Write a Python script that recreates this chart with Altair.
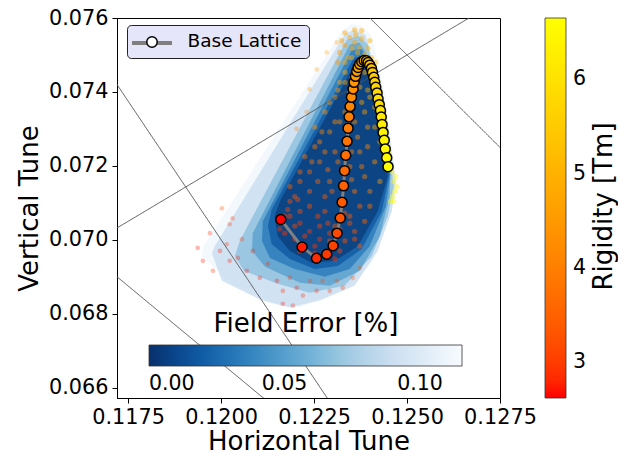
import altair as alt
import pandas as pd

FONT = "DejaVu Sans"

# ---------------- data ----------------
base_qx = [0.121605, 0.122177, 0.122565, 0.122841, 0.123011, 0.123118, 0.123204, 0.123253,
           0.123293, 0.123320, 0.123352, 0.123387, 0.123414, 0.123441, 0.123468, 0.123505,
           0.123548, 0.123575, 0.123613, 0.123648, 0.123683, 0.123728, 0.123782, 0.123844,
           0.123909, 0.123952, 0.123997, 0.124043, 0.124070, 0.124105, 0.124132, 0.124159,
           0.124194, 0.124220, 0.124253, 0.124285, 0.124306, 0.124328, 0.124355, 0.124387,
           0.124414, 0.124454, 0.124489]
base_qy = [0.070548, 0.069804, 0.069501, 0.069608, 0.069839, 0.070180, 0.070591, 0.071015,
           0.071460, 0.071871, 0.072287, 0.072663, 0.073017, 0.073326, 0.073603, 0.073858,
           0.074081, 0.074260, 0.074421, 0.074556, 0.074663, 0.074752, 0.074816, 0.074851,
           0.074843, 0.074797, 0.074725, 0.074636, 0.074529, 0.074395, 0.074260, 0.074126,
           0.073973, 0.073812, 0.073656, 0.073495, 0.073321, 0.073119, 0.072905, 0.072690,
           0.072454, 0.072220, 0.071979]
base_rig = [2.620, 2.732, 2.843, 2.954, 3.063, 3.172, 3.280, 3.388, 3.494, 3.600, 3.705,
            3.809, 3.913, 4.015, 4.117, 4.218, 4.319, 4.418, 4.517, 4.615, 4.712, 4.808,
            4.904, 4.999, 5.093, 5.186, 5.279, 5.370, 5.461, 5.551, 5.641, 5.729, 5.817,
            5.904, 5.990, 6.076, 6.160, 6.244, 6.327, 6.410, 6.491, 6.572, 6.652]

hull_err = [0.110, 0.085, 0.065, 0.048, 0.030, 0.015, 0.003]
hull_qx = [
    [0.12327, 0.12351, 0.12378, 0.12405, 0.12440, 0.12469, 0.12472, 0.12453, 0.12405, 0.12332, 0.12212, 0.12158, 0.12031, 0.11948, 0.11951],
    [0.12333, 0.12359, 0.12389, 0.12448, 0.12469, 0.12459, 0.12421, 0.12359, 0.12265, 0.12185, 0.12110, 0.12002, 0.11975, 0.11983],
    [0.12338, 0.12368, 0.12395, 0.12453, 0.12464, 0.12448, 0.12405, 0.12332, 0.12238, 0.12152, 0.12061, 0.12037, 0.12050],
    [0.12346, 0.12373, 0.12405, 0.12456, 0.12453, 0.12427, 0.12373, 0.12292, 0.12212, 0.12118, 0.12083, 0.12085],
    [0.12351, 0.12378, 0.12413, 0.12456, 0.12443, 0.12400, 0.12346, 0.12279, 0.12198, 0.12131, 0.12110, 0.12112],
    [0.12357, 0.12384, 0.12421, 0.12453, 0.12432, 0.12378, 0.12314, 0.12252, 0.12185, 0.12136, 0.12126, 0.12136],
    [0.12362, 0.12389, 0.12427, 0.12448, 0.12421, 0.12368, 0.12306, 0.12244, 0.12185, 0.12152, 0.12144, 0.12158],
]
hull_qy = [
    [0.07568, 0.07584, 0.07579, 0.07552, 0.07399, 0.07184, 0.07131, 0.07064, 0.06937, 0.06868, 0.06817, 0.06822, 0.06879, 0.06956, 0.06980],
    [0.07557, 0.07568, 0.07554, 0.07319, 0.07158, 0.07077, 0.06970, 0.06876, 0.06836, 0.06817, 0.06836, 0.06889, 0.06964, 0.06983],
    [0.07541, 0.07552, 0.07528, 0.07238, 0.07144, 0.07064, 0.06956, 0.06876, 0.06857, 0.06881, 0.06916, 0.06956, 0.06997],
    [0.07528, 0.07533, 0.07480, 0.07198, 0.07117, 0.07010, 0.06916, 0.06876, 0.06884, 0.06927, 0.06970, 0.07018],
    [0.07512, 0.07517, 0.07426, 0.07184, 0.07090, 0.06983, 0.06921, 0.06900, 0.06921, 0.06951, 0.06997, 0.07050],
    [0.07493, 0.07493, 0.07372, 0.07179, 0.07077, 0.06975, 0.06929, 0.06921, 0.06948, 0.06988, 0.07037, 0.07082],
    [0.07480, 0.07474, 0.07332, 0.07171, 0.07077, 0.06983, 0.06943, 0.06937, 0.06970, 0.07010, 0.07064, 0.07104],
]

# sparse outer samples (halo)
halo_qx = [0.11937, 0.11970, 0.11997, 0.12015, 0.12023, 0.12045, 0.12069, 0.12056, 0.12085, 0.12104,
           0.12126, 0.12150, 0.12166, 0.12185, 0.12203, 0.12220, 0.12239, 0.12257, 0.12273, 0.12292,
           0.12311, 0.12327, 0.12354, 0.12373, 0.12023, 0.12031, 0.12002, 0.11951, 0.11978, 0.12166,
           0.12193, 0.12257, 0.12238, 0.12284, 0.12311, 0.12230, 0.12203]
halo_qy = [0.06978, 0.07018, 0.06970, 0.06988, 0.06943, 0.06951, 0.06916, 0.07002, 0.06970, 0.06897,
           0.06935, 0.06889, 0.06862, 0.06897, 0.06870, 0.06849, 0.06889, 0.06862, 0.06889, 0.06862,
           0.06889, 0.06870, 0.06897, 0.06924, 0.07042, 0.07058, 0.07085, 0.06943, 0.06916, 0.06827,
           0.06822, 0.07461, 0.07407, 0.07507, 0.07534, 0.07346, 0.07300]
halo_rig = [2.7, 2.8, 2.7, 2.9, 2.7, 2.8, 2.7, 3.0, 2.8, 2.7,
            2.9, 2.7, 2.8, 2.9, 2.7, 2.8, 3.0, 2.8, 3.1, 2.9,
            3.2, 3.0, 3.3, 3.4, 3.0, 3.1, 3.2, 2.7, 2.8, 2.7,
            2.8, 4.5, 4.3, 4.6, 4.6, 4.2, 4.0]

# dense core samples
core_qx = [0.12333, 0.12359,
           0.12346, 0.12362, 0.12378, 0.12333, 0.12352, 0.12373, 0.12395, 0.12319, 0.12341, 0.12386,
           0.12405, 0.12367, 0.12359, 0.12324, 0.12378, 0.12400, 0.12416, 0.12314,
           0.12171, 0.12198, 0.12225, 0.12252, 0.12212, 0.12265, 0.12292, 0.12333, 0.12359, 0.12386,
           0.12238, 0.12185, 0.12346, 0.12279, 0.12319, 0.12212, 0.12158, 0.12373, 0.12400, 0.12306,
           0.12185, 0.12212, 0.12238, 0.12265, 0.12292, 0.12252, 0.12359, 0.12386, 0.12413, 0.12373,
           0.12346, 0.12225, 0.12279, 0.12400, 0.12427, 0.12198, 0.12306, 0.12333,
           0.12252, 0.12279, 0.12306, 0.12319, 0.12333, 0.12359, 0.12386, 0.12400, 0.12373, 0.12292,
           0.12265, 0.12413, 0.12427, 0.12346, 0.12319, 0.12386, 0.12405, 0.12440, 0.12352,
           0.12453, 0.12459, 0.12464, 0.12467, 0.12461, 0.12456, 0.12469, 0.12451, 0.12445, 0.12443,
           0.12440, 0.12437, 0.12432, 0.12427, 0.12472, 0.12464,
           0.12185, 0.12212, 0.12238, 0.12265, 0.12292, 0.12319, 0.12346, 0.12225, 0.12252, 0.12279,
           0.12306, 0.12198, 0.12171, 0.12152, 0.12179, 0.12206, 0.12260, 0.12287, 0.12333, 0.12373,
           0.12359,
           0.12212, 0.12238, 0.12260, 0.12287, 0.12314, 0.12298, 0.12351, 0.12378, 0.12367, 0.12394,
           0.12279, 0.12244, 0.12271, 0.12306, 0.12333, 0.12351, 0.12324, 0.12394,
           0.12292, 0.12314, 0.12333, 0.12346, 0.12362, 0.12378, 0.12394, 0.12413, 0.12333, 0.12351,
           0.12386]
core_qy = [0.07560, 0.07568,
           0.07547, 0.07555, 0.07544, 0.07526, 0.07518, 0.07520, 0.07518, 0.07507, 0.07493, 0.07501,
           0.07493, 0.07507, 0.07534, 0.07539, 0.07566, 0.07539, 0.07480, 0.07480,
           0.07064, 0.07037, 0.07010, 0.06983, 0.07077, 0.07037, 0.06997, 0.06997, 0.07023, 0.07050,
           0.07091, 0.07104, 0.07064, 0.07077, 0.06970, 0.06970, 0.07029, 0.06983, 0.07091, 0.07037,
           0.07144, 0.07184, 0.07131, 0.07211, 0.07158, 0.07252, 0.07131, 0.07171, 0.07211, 0.07238,
           0.07198, 0.07225, 0.07117, 0.07131, 0.07158, 0.07117, 0.07238, 0.07265,
           0.07305, 0.07346, 0.07386, 0.07426, 0.07453, 0.07319, 0.07346, 0.07386, 0.07413, 0.07292,
           0.07265, 0.07305, 0.07265, 0.07372, 0.07319, 0.07453, 0.07426, 0.07238, 0.07440,
           0.07211, 0.07184, 0.07158, 0.07131, 0.07117, 0.07104, 0.07171, 0.07238, 0.07265, 0.07292,
           0.07319, 0.07346, 0.07372, 0.07399, 0.07144, 0.07104,
           0.07064, 0.07045, 0.07023, 0.07002, 0.07018, 0.07029, 0.07045, 0.06983, 0.06964, 0.06956,
           0.06948, 0.07002, 0.07018, 0.07056, 0.07082, 0.07109, 0.07064, 0.07045, 0.07072, 0.07091,
           0.07002,
           0.07158, 0.07184, 0.07158, 0.07190, 0.07211, 0.07131, 0.07163, 0.07198, 0.07278, 0.07252,
           0.07238, 0.07211, 0.07292, 0.07319, 0.07346, 0.07238, 0.07184, 0.07305,
           0.07372, 0.07405, 0.07426, 0.07399, 0.07453, 0.07372, 0.07405, 0.07359, 0.07480, 0.07493,
           0.07474]
core_rig = [4.7, 4.8,
            4.7, 4.8, 4.9, 4.6, 4.7, 4.8, 5.0, 4.5, 4.6, 4.9,
            5.1, 4.8, 4.7, 4.6, 4.9, 5.0, 5.2, 4.5,
            3.0, 3.1, 3.0, 2.9, 3.2, 3.1, 3.2, 3.3, 3.4, 3.6,
            3.3, 3.2, 3.5, 3.3, 3.1, 2.9, 2.9, 3.3, 3.8, 3.3,
            3.5, 3.6, 3.5, 3.8, 3.7, 3.9, 3.8, 4.0, 4.3, 4.1,
            3.9, 3.8, 3.5, 4.0, 4.4, 3.4, 3.9, 4.0,
            4.2, 4.3, 4.5, 4.6, 4.8, 4.3, 4.6, 4.8, 4.7, 4.2,
            4.0, 4.7, 4.8, 4.5, 4.3, 5.0, 5.1, 5.0, 4.9,
            6.3, 6.4, 6.5, 6.6, 6.6, 6.6, 6.5, 6.2, 6.1, 6.0,
            5.9, 5.8, 5.7, 5.6, 6.6, 6.6,
            3.1, 3.0, 2.9, 2.9, 3.0, 3.1, 3.3, 2.8, 2.8, 2.8,
            2.9, 2.9, 2.9, 3.0, 3.1, 3.2, 3.1, 3.1, 3.3, 3.6,
            3.2,
            3.5, 3.6, 3.6, 3.7, 3.8, 3.6, 3.8, 4.0, 4.2, 4.2,
            3.9, 3.8, 4.1, 4.2, 4.3, 4.0, 3.8, 4.4,
            4.4, 4.5, 4.6, 4.6, 4.8, 4.7, 4.8, 4.9, 4.8, 4.9,
            5.0]

res_id = ["3Qx+2Qy=0.5", "3Qx+2Qy=0.5", "5Qy-3Qx=0", "5Qy-3Qx=0",
          "Qx+Qy=0.2", "Qx+Qy=0.2", "5Qx+6Qy=1", "5Qx+6Qy=1"]
res_qx = [0.1170, 0.1235, 0.1170, 0.1280, 0.1230, 0.1280, 0.1170, 0.1225]
res_qy = [0.07450, 0.06475, 0.07020, 0.07680, 0.07700, 0.07200, 0.069167, 0.064583]

blues_r = ["#08306b", "#08519c", "#2171b5", "#4292c6", "#6baed6",
           "#9ecae1", "#c6dbef", "#deebf7", "#f7fbff"]
fe_max = 0.1155
fe_stops = [fe_max * i / 8 for i in range(9)]
rig_domain = [2.62, 6.65]

# ---------------- frames ----------------
base_df = pd.DataFrame({"qx": base_qx, "qy": base_qy, "rig": base_rig,
                        "i": list(range(len(base_qx)))})
base_df["lbl"] = "Base Lattice"
base_df["mk"] = "o"

rows = []
for h, (e, hx, hy) in enumerate(zip(hull_err, hull_qx, hull_qy)):
    for k, (a, b) in enumerate(zip(hx, hy)):
        rows.append({"hull": h, "k": k, "qx": a, "qy": b, "err": e})
hull_df = pd.DataFrame(rows)

halo_df = pd.DataFrame({"qx": halo_qx, "qy": halo_qy, "rig": halo_rig})
core_df = pd.DataFrame({"qx": core_qx, "qy": core_qy, "rig": core_rig})
res_df = pd.DataFrame({"line": res_id, "qx": res_qx, "qy": res_qy, "k": [0, 1] * 4})
res_df["bx"] = "BL"

# ---------------- scales / axes ----------------
xs = alt.Scale(domain=[0.1172, 0.1275], nice=False, zero=False)
ys = alt.Scale(domain=[0.06572, 0.076], nice=False, zero=False)
x_axis = alt.Axis(title="Horizontal Tune", values=[0.1175, 0.12, 0.1225, 0.125, 0.1275],
                  format=".4f", labelFlush=False, labelOverlap=False, grid=False,
                  titlePadding=2)
y_axis = alt.Axis(title="Vertical Tune", values=[0.066, 0.068, 0.070, 0.072, 0.074, 0.076],
                  format=".3f", labelFlush=False, labelOverlap=False, grid=False)
r_axis = alt.Axis(orient="right", title="Rigidity [Tm]", labels=False, ticks=False,
                  domain=False, grid=False, titleAngle=270, titleX=111, titleY=188,
                  titleAlign="center", titleBaseline="alphabetic")
X = alt.X("qx:Q", scale=xs, axis=x_axis)
Y = alt.Y("qy:Q", scale=ys, axis=y_axis)
Y_plain = alt.Y("qy:Q", scale=ys, axis=None)
Y_right = alt.Y("qy:Q", scale=ys, axis=r_axis)

rig_scale = alt.Scale(domain=rig_domain, range=["#ff0000", "#ffff00"])
rig_legend = alt.Legend(title=None, orient="none", legendX=428, legendY=0,
                        direction="vertical", gradientLength=380, gradientThickness=21,
                        values=[3, 4, 5, 6], format="d", labelFontSize=20.5,
                        gradientStrokeColor="#333333", gradientOpacity=1,
                        gradientStrokeWidth=0.8, labelOffset=7)
fe_scale = alt.Scale(domain=fe_stops, range=blues_r)
fe_legend = alt.Legend(title="Field Error [%]", orient="none", legendX=32, legendY=293,
                       direction="horizontal", gradientLength=313, gradientThickness=21,
                       values=[0, 0.05, 0.1], format=".2f", labelFontSize=20.5,
                       titleFontSize=26, titleFontWeight="normal", titleAnchor="middle",
                       titleLimit=500, labelAlign="center", gradientStrokeColor="#333333",
                       gradientStrokeWidth=0.8, labelOffset=8, titlePadding=8,
                       gradientOpacity=1)
box_legend = alt.Legend(title=None, orient="none", legendX=10, legendY=7,
                        symbolOpacity=0, symbolSize=110, symbolType="circle",
                        labelExpr="'Base Lattice'", labelFontSize=18.5, padding=7,
                        fillColor="#e6e6fa", strokeColor="#222222", cornerRadius=4,
                        labelOffset=35, zindex=1)
line_legend = alt.Legend(title=None, orient="none", legendX=13, legendY=3,
                         symbolType="stroke", symbolSize=1600, symbolStrokeWidth=4,
                         labelOpacity=0, labelFontSize=1, padding=0, zindex=2)
pt_legend = alt.Legend(title=None, orient="none", legendX=29, legendY=18,
                       symbolFillColor="white", symbolStrokeColor="black",
                       symbolStrokeWidth=1.5, symbolSize=110, labelOpacity=0,
                       labelFontSize=1, padding=0, zindex=3)

# ---------------- layers ----------------
hulls = alt.Chart(hull_df).mark_line(fillOpacity=0.7, strokeWidth=0, stroke="transparent",
                                     clip=True).encode(
    x=X, y=Y, fill=alt.Fill("err:Q", scale=fe_scale, legend=fe_legend),
    detail="hull:N", order="k:Q")

halo = alt.Chart(halo_df).mark_circle(size=22, opacity=0.3, clip=True).encode(
    x=X, y=Y_plain, color=alt.Color("rig:Q", scale=rig_scale, legend=rig_legend))

core = alt.Chart(core_df).mark_circle(size=28, opacity=0.45, clip=True).encode(
    x=X, y=Y_plain, color=alt.Color("rig:Q", scale=rig_scale, legend=rig_legend))

res = alt.Chart(res_df).mark_line(color="#555555", strokeWidth=1, clip=True).encode(
    x=X, y=Y_right, detail="line:N", order="k:Q",
    strokeDash=alt.StrokeDash("bx:N", scale=alt.Scale(domain=["BL"], range=[[1, 0]]),
                              legend=box_legend))

path = alt.Chart(base_df).mark_line(strokeWidth=3).encode(
    x=X, y=Y_plain, order="i:Q",
    stroke=alt.Stroke("lbl:N", scale=alt.Scale(domain=["Base Lattice"], range=["#808080"]),
                      legend=line_legend))

pts = alt.Chart(base_df).mark_point(filled=True, size=100, stroke="black", strokeWidth=1.5,
                                    opacity=1).encode(
    x=X, y=Y_plain,
    color=alt.Color("rig:Q", scale=rig_scale, legend=rig_legend),
    shape=alt.Shape("mk:N", scale=alt.Scale(domain=["o"], range=["circle"]), legend=pt_legend))

chart = alt.layer(hulls, halo, core, res, path, pts).resolve_axis(y="independent").properties(
    width=383, height=380,
    autosize=alt.AutoSizeParams(type="none"),
    padding={"left": 109, "top": 10, "right": 118, "bottom": 56},
).configure(font=FONT).configure_view(stroke="black", strokeWidth=1).configure_axis(
    labelFontSize=20.8, titleFontSize=26, titleFontWeight="normal", labelColor="black",
    titleColor="black", domainColor="black", tickColor="black", tickSize=5,
    labelPadding=4, titlePadding=6,
).configure_legend(
    labelColor="black", titleColor="black",
    symbolBaseFillColor="white", symbolBaseStrokeColor="black",
)

chart.save("out.html", embed_options={"renderer": "svg", "actions": False})
